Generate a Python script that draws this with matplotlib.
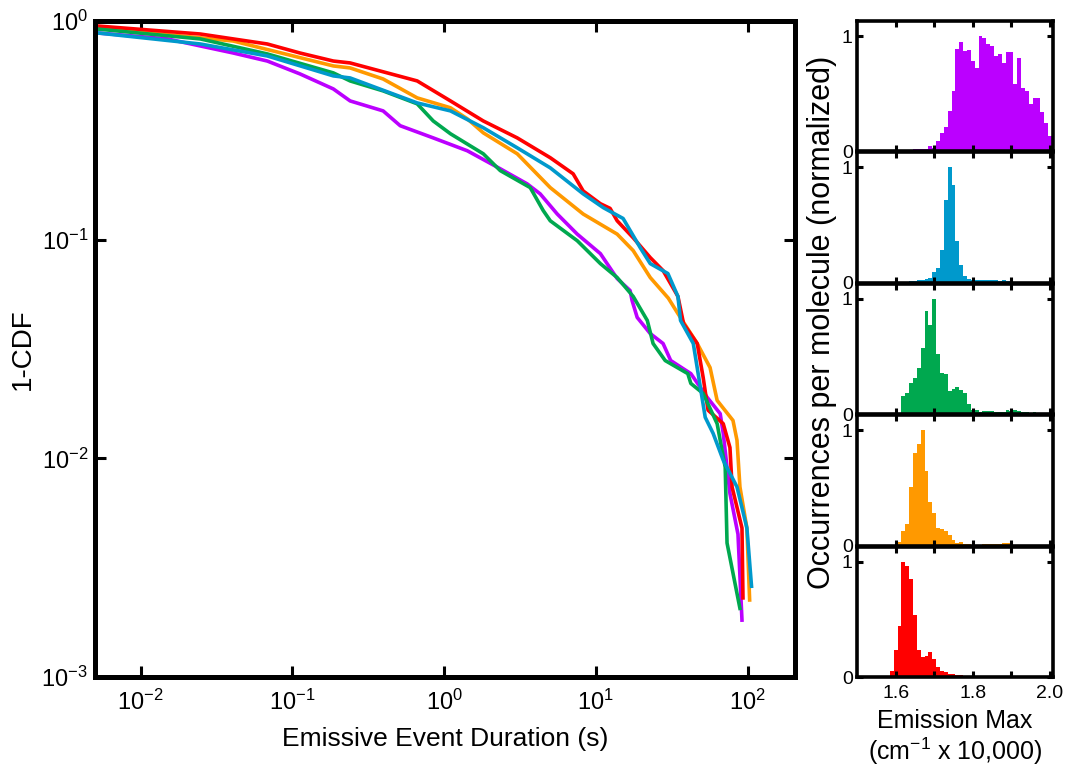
import numpy as np
import matplotlib
matplotlib.use("Agg")
import matplotlib.pyplot as plt
from matplotlib.ticker import NullLocator, LogLocator

plt.rcParams['font.family'] = ['Liberation Sans', 'DejaVu Sans']
plt.rcParams['mathtext.fontset'] = 'custom'
plt.rcParams['mathtext.rm'] = 'Liberation Sans'
plt.rcParams['mathtext.it'] = 'Liberation Sans:italic'
plt.rcParams['mathtext.bf'] = 'Liberation Sans:bold'

# ---- 1-CDF of emissive event durations (s) ----
red_dur = [0.00517, 0.0247, 0.0683, 0.112, 0.186, 0.240, 0.664, 1.10, 1.81, 3.03, 5.00,
           7.08, 8.24, 10.7, 12.4, 13.8, 17.6, 22.8, 27.7, 34.7, 37.8, 46.5, 50.9, 54.8,
           69.0, 76.4, 78.9, 91.7, 93.1]
red_cdf = [0.949, 0.872, 0.785, 0.714, 0.656, 0.643, 0.532, 0.431, 0.349, 0.292, 0.237,
           0.200, 0.167, 0.146, 0.139, 0.122, 0.102, 0.0828, 0.0722, 0.055, 0.0413, 0.0335,
           0.0234, 0.0166, 0.0144, 0.0112, 0.0074, 0.0048, 0.0023]

orange_dur = [0.00517, 0.0407, 0.186, 0.240, 0.396, 0.664, 1.10, 1.42, 1.81, 3.03, 5.00,
              8.24, 13.8, 17.6, 22.8, 30.0, 34.7, 46.5, 56.5, 62.9, 80.0, 85.0, 88.9,
              98.8, 103]
orange_cdf = [0.93, 0.81, 0.623, 0.610, 0.543, 0.445, 0.401, 0.357, 0.308, 0.247, 0.173,
              0.131, 0.106, 0.0891, 0.0671, 0.054, 0.0459, 0.0335, 0.0260, 0.0184, 0.0149,
              0.0121, 0.0074, 0.0048, 0.00225]

green_dur = [0.00517, 0.0247, 0.0683, 0.186, 0.240, 0.396, 0.664, 0.847, 1.10, 1.81, 2.34,
             3.69, 4.49, 5.00, 7.53, 10.7, 13.8, 17.6, 21.8, 23.8, 28.6, 40.3, 42.2, 50.9,
             62.9, 71.1, 73.1, 88.9]
green_cdf = [0.919, 0.828, 0.707, 0.579, 0.532, 0.479, 0.418, 0.349, 0.305, 0.247, 0.207,
             0.173, 0.136, 0.122, 0.0989, 0.0777, 0.0671, 0.055, 0.0427, 0.0335, 0.0280,
             0.0244, 0.0220, 0.0198, 0.0144, 0.0091, 0.0041, 0.00206]

blue_dur = [0.00517, 0.0247, 0.0683, 0.186, 0.240, 0.664, 1.10, 1.81, 3.03, 5.00, 8.24,
            11.2, 15.1, 19.6, 22.8, 29.8, 34.7, 36.1, 43.8, 52.5, 59.2, 69.0, 85.0, 98.8, 106]
blue_cdf = [0.882, 0.785, 0.692, 0.561, 0.549, 0.422, 0.388, 0.325, 0.263, 0.213, 0.162,
            0.140, 0.125, 0.0918, 0.0777, 0.0700, 0.055, 0.0427, 0.0335, 0.0154, 0.0130,
            0.0098, 0.0074, 0.0048, 0.0026]

purple_dur = [0.00517, 0.0150, 0.0407, 0.0683, 0.112, 0.186, 0.240, 0.396, 0.513, 0.847,
              1.42, 2.34, 3.52, 4.29, 5.56, 7.53, 10.7, 13.8, 16.8, 17.3, 18.7, 22.8, 27.7,
              31.1, 42.2, 54.1, 65.9, 69.0, 76.4, 86.3, 91.7]
purple_cdf = [0.882, 0.828, 0.714, 0.656, 0.573, 0.489, 0.431, 0.388, 0.332, 0.292, 0.255,
              0.211, 0.180, 0.162, 0.131, 0.106, 0.0863, 0.0664, 0.0585, 0.0527, 0.0441,
              0.0372, 0.0335, 0.0280, 0.0244, 0.0190, 0.0160, 0.0130, 0.0069, 0.0045, 0.00182]

# ---- emission max histograms (normalized), 0.01 wide bins from 1.505 ----
bin_left = np.round(1.505 + 0.01 * np.arange(50), 3)

purple_hist = [0, 0, 0, 0, 0, 0, 0, 0, 0, 0,
               0, 0.012, 0.015, 0.015, 0.02, 0.025, 0.025, 0.02, 0.045, 0.03,
               0.09, 0.16, 0.21, 0.35, 0.52, 0.89, 0.95, 0.87, 0.88, 0.78,
               0.72, 1.0, 0.98, 0.93, 0.91, 0.83, 0.84, 0.77, 0.86, 0.86,
               0.58, 0.81, 0.55, 0.52, 0.41, 0.46, 0.46, 0.34, 0.25, 0.13]
blue_hist = [0, 0, 0, 0, 0, 0, 0, 0, 0, 0,
             0, 0.005, 0.01, 0.012, 0.015, 0.02, 0.025, 0.03, 0.04, 0.09,
             0.13, 0.28, 0.72, 1.0, 0.85, 0.36, 0.15, 0.06, 0.03, 0.025,
             0.02, 0.025, 0.025, 0.02, 0.02, 0.02, 0.015, 0.02, 0.015, 0.015,
             0.01, 0.01, 0.008, 0.005, 0, 0, 0, 0, 0, 0]
green_hist = [0, 0, 0, 0, 0, 0, 0, 0, 0.003, 0.005,
              0.005, 0.16, 0.18, 0.27, 0.31, 0.40, 0.57, 0.89, 0.77, 1.0,
              0.52, 0.36, 0.35, 0.20, 0.22, 0.24, 0.21, 0.18, 0.09, 0.035,
              0.035, 0.015, 0.03, 0.03, 0.025, 0.02, 0.02, 0.02, 0.035, 0.03,
              0.035, 0.025, 0.02, 0.015, 0.01, 0.02, 0.01, 0.005, 0, 0]
orange_hist = [0, 0, 0, 0, 0, 0, 0, 0, 0, 0,
               0.03, 0.13, 0.19, 0.51, 0.80, 0.88, 1.0, 0.65, 0.38, 0.28,
               0.15, 0.14, 0.13, 0.09, 0.045, 0.025, 0.03, 0.015, 0.01, 0.008,
               0.005, 0.008, 0.01, 0.01, 0.012, 0.015, 0.015, 0.02, 0.02, 0.025,
               0, 0, 0, 0, 0, 0, 0, 0, 0, 0]
red_hist = [0, 0, 0, 0, 0, 0, 0, 0.005, 0.05, 0.23,
            0.44, 1.0, 0.96, 0.85, 0.54, 0.23, 0.17, 0.18, 0.22, 0.16,
            0.09, 0.05, 0.045, 0.03, 0.03, 0.02, 0.015, 0.012, 0.01, 0.008,
            0.006, 0.005, 0.005, 0.005, 0.005, 0.005, 0.005, 0.005, 0.005, 0.005,
            0.003, 0.003, 0.003, 0.003, 0, 0, 0, 0, 0, 0]

RED, ORANGE, GREEN, BLUE, PURPLE = '#FF0000', '#FF9900', '#00A84F', '#0099CC', '#BB00FF'

W, H = 1065, 774
fig = plt.figure(figsize=(W / 100, H / 100), dpi=100)

# main CDF panel
ax = fig.add_axes([95 / W, 1 - 677 / H, 700 / W, 656 / H])
for dur, cdf, col in [(purple_dur, purple_cdf, PURPLE), (orange_dur, orange_cdf, ORANGE),
                      (red_dur, red_cdf, RED), (green_dur, green_cdf, GREEN),
                      (blue_dur, blue_cdf, BLUE)]:
    ax.plot(dur, cdf, color=col, lw=2.6, solid_joinstyle='round')
ax.set_xscale('log')
ax.set_yscale('log')
ax.set_xlim(0.005, 205)
ax.set_ylim(1e-3, 1)
ax.xaxis.set_major_locator(LogLocator(base=10, numticks=10))
ax.xaxis.set_minor_locator(NullLocator())
ax.yaxis.set_minor_locator(NullLocator())
ax.tick_params(which='major', direction='in', top=True, right=True,
               length=8, width=2.2, labelsize=17)
ax.tick_params(axis='x', pad=9)
ax.tick_params(axis='y', pad=5)
for s in ax.spines.values():
    s.set_linewidth(3.6)
ax.set_xlabel('Emissive Event Duration (s)', fontsize=19, labelpad=9)
ax.set_ylabel('1-CDF', fontsize=20, labelpad=4)

# stacked emission histograms
hists = [(purple_hist, PURPLE), (blue_hist, BLUE), (green_hist, GREEN),
         (orange_hist, ORANGE), (red_hist, RED)]
ph = 130.4
for i, (vals, col) in enumerate(hists):
    top = 21 + i * (ph + 1)
    hax = fig.add_axes([857 / W, 1 - (top + ph) / H, 196 / W, ph / H])
    hax.bar(bin_left, vals, width=0.01, align='edge', color=col, linewidth=0)
    hax.set_xlim(1.5, 2.008)
    hax.set_ylim(0, 1.13)
    hax.set_yticks([0, 1])
    hax.set_yticklabels(['0', '1'])
    hax.set_xticks([1.6, 1.7, 1.8, 1.9, 2.0])
    if i == len(hists) - 1:
        hax.set_xticklabels(['1.6', '', '1.8', '', '2.0'])
    else:
        hax.set_xticklabels([])
    hax.tick_params(direction='in', top=True, right=True, length=4, width=2.2,
                    labelsize=14, pad=3)
    hax.tick_params(axis='x', pad=6)
    for s in hax.spines.values():
        s.set_linewidth(2.6)
    if i == len(hists) - 1:
        hax.set_xlabel('Emission Max\n(cm$^{-1}$ x 10,000)', fontsize=18, labelpad=5,
                       linespacing=1.1)

fig.text(822 / W, 1 - 322 / H, 'Occurrences per molecule (normalized)', rotation=90,
         ha='center', va='center', fontsize=22)

fig.savefig('out.png', dpi=100)
